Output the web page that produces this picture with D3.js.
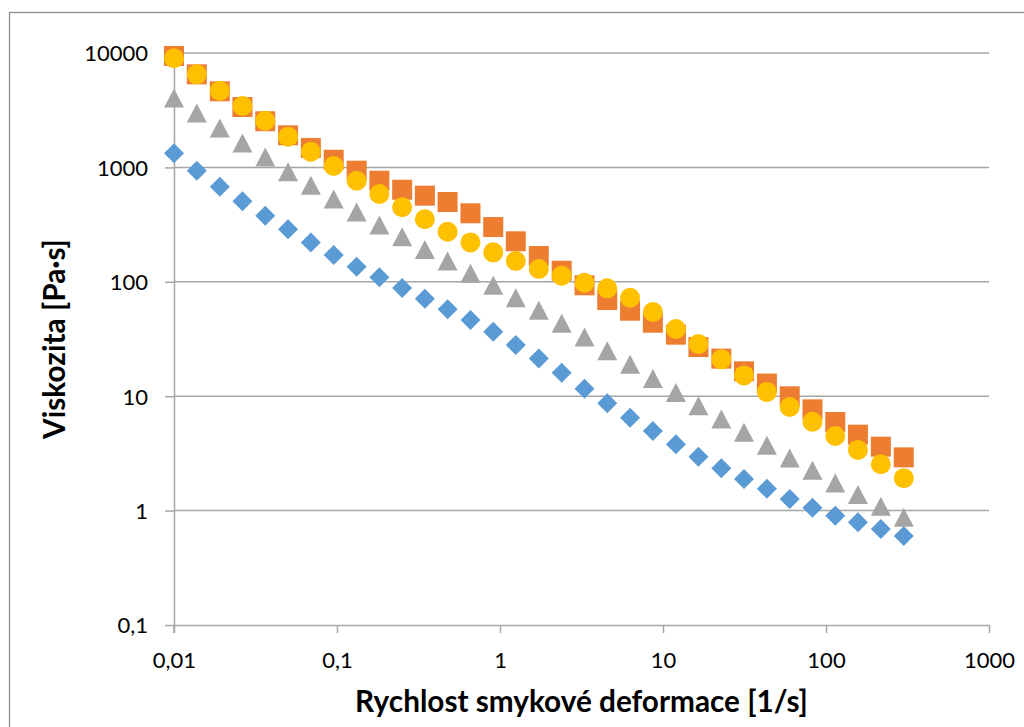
<!DOCTYPE html>
<html>
<head>
<meta charset="utf-8">
<script src="https://cdn.jsdelivr.net/npm/d3@7"></script>
<style>
  html, body { margin: 0; padding: 0; background: #fff; }
  svg { display: block; }
</style>
</head>
<body>
<svg id="chart" width="1024" height="727"></svg>
<script>
// Shear rate [1/s]
const shearRate = [0.01, 0.0138, 0.0191, 0.0263, 0.0363, 0.0501, 0.0691, 0.0954, 0.132, 0.182,
  0.251, 0.346, 0.477, 0.659, 0.909, 1.25, 1.73, 2.39, 3.3, 4.55, 6.28, 8.67, 12, 16.5, 22.8,
  31.4, 43.4, 59.9, 82.6, 114, 157, 217, 300];

// Viscosity [Pa·s] for the four samples
const seriesBlue = [1330, 936, 678, 505, 378, 288, 221, 171.5, 135.5, 109.4, 88.3, 71.2, 57.5,
  46.4, 36.6, 28.0, 21.4, 16.0, 11.6, 8.67, 6.49, 4.96, 3.80, 2.96, 2.34, 1.89, 1.55, 1.26,
  1.06, 0.903, 0.790, 0.691, 0.600];
const seriesOrange = [9420, 6510, 4625, 3373, 2531, 1908, 1479, 1167, 936, 765, 638, 566, 498,
  397, 301, 226, 168, 125, 93.2, 69.3, 55.9, 43.9, 34.5, 26.9, 21.3, 16.5, 12.9, 9.98, 7.68,
  5.95, 4.61, 3.62, 2.92];
const seriesGray = [4045, 2990, 2210, 1634, 1233, 917, 698, 529, 408, 314, 248, 192, 152,
  118.7, 93.2, 72.6, 56.3, 43.4, 32.9, 25.0, 19.0, 14.3, 10.8, 8.26, 6.32, 4.83, 3.72, 2.88,
  2.25, 1.74, 1.38, 1.09, 0.874];
const seriesYellow = [8990, 6510, 4680, 3440, 2560, 1855, 1371, 1028, 765, 585, 448, 352, 274,
  221, 181, 152, 129.4, 113, 98.2, 87.7, 72.6, 54.5, 38.7, 28.6, 21.0, 15.2, 10.9, 8.05, 5.98,
  4.49, 3.39, 2.54, 1.92];

// Axis ticks and their labels (decimal comma)
const xTicks = [0.01, 0.1, 1, 10, 100, 1000];
const xTickLabels = ["0,01", "0,1", "1", "10", "100", "1000"];
const yTicks = [0.1, 1, 10, 100, 1000, 10000];
const yTickLabels = ["0,1", "1", "10", "100", "1000", "10000"];

const xTitle = "Rychlost smykové deformace [1/s]";
const yTitle = "Viskozita [Pa·s]";

const series = [
  { values: seriesBlue,   color: "#5B9BD5", shape: "diamond" },
  { values: seriesOrange, color: "#ED7D31", shape: "square" },
  { values: seriesGray,   color: "#A5A5A5", shape: "triangle" },
  { values: seriesYellow, color: "#FFC000", shape: "circle" }
];

const svg = d3.select("#chart");
const plot = { left: 174, right: 989, top: 53, bottom: 625 };
const gridColor = "#A6A6A6";
const tickFont = "Lato, 'Open Sans', sans-serif";

const x = d3.scaleLog().domain([0.01, 1000]).range([plot.left, plot.right]);
const y = d3.scaleLog().domain([0.1, 10000]).range([plot.bottom, plot.top]);

// Chart area border
svg.append("rect")
  .attr("x", 9.5).attr("y", 12.5)
  .attr("width", 1200).attr("height", 900)
  .attr("fill", "none").attr("stroke", "#8C8C8C").attr("stroke-width", 1.3);

// Horizontal gridlines
svg.append("g")
  .selectAll("line")
  .data(yTicks.slice(1))
  .join("line")
  .attr("x1", plot.left).attr("x2", plot.right)
  .attr("y1", d => y(d)).attr("y2", d => y(d))
  .attr("stroke", gridColor).attr("stroke-width", 1.5);

// X axis
const xAxis = svg.append("g")
  .attr("transform", `translate(0,${plot.bottom})`)
  .call(d3.axisBottom(x)
    .tickValues(xTicks)
    .tickFormat((d, i) => xTickLabels[i])
    .tickSizeInner(8).tickSizeOuter(0).tickPadding(0));
xAxis.select(".domain").attr("stroke", gridColor).attr("stroke-width", 1.5);
xAxis.selectAll(".tick line").attr("stroke", gridColor).attr("stroke-width", 1.5);
xAxis.selectAll(".tick text")
  .attr("y", 43).attr("dy", null)
  .attr("fill", "#000")
  .style("font-family", tickFont).style("font-size", "22px");

// Y axis
const yAxis = svg.append("g")
  .attr("transform", `translate(${plot.left},0)`)
  .call(d3.axisLeft(y)
    .tickValues(yTicks)
    .tickFormat((d, i) => yTickLabels[i])
    .tickSizeInner(9).tickSizeOuter(0).tickPadding(17));
yAxis.select(".domain").attr("stroke", gridColor).attr("stroke-width", 1.5);
yAxis.selectAll(".tick line").attr("stroke", gridColor).attr("stroke-width", 1.5);
yAxis.selectAll(".tick text")
  .attr("dy", "0.36em")
  .attr("fill", "#000")
  .style("font-family", tickFont).style("font-size", "22px");
// the vertical axis line continues down through the tick marks
svg.append("line")
  .attr("x1", plot.left).attr("x2", plot.left)
  .attr("y1", plot.bottom).attr("y2", plot.bottom + 8)
  .attr("stroke", gridColor).attr("stroke-width", 1.5);

// Marker shapes, centred on their bounding box
function markerPath(shape) {
  const h = 10;
  switch (shape) {
    case "diamond":  return `M0,${-h}L${h},0L0,${h}L${-h},0Z`;
    case "square":   return `M${-h},${-h}H${h}V${h}H${-h}Z`;
    case "triangle": return `M0,${-9.5}L${h},9.5L${-h},9.5Z`;
    default:         return d3.symbol(d3.symbolCircle, Math.PI * h * h)();
  }
}

series.forEach(s => {
  svg.append("g")
    .selectAll("path")
    .data(s.values.map((v, i) => [shearRate[i], v]))
    .join("path")
    .attr("d", markerPath(s.shape))
    .attr("transform", d => `translate(${x(d[0])},${y(d[1])})`)
    .attr("fill", s.color);
});

// Axis titles
const titleStyle = sel => sel
  .attr("fill", "#000")
  .style("font-family", "Lato, 'Open Sans', sans-serif")
  .style("font-weight", "bold")
  .style("font-size", "26px");

const xt = svg.append("text")
  .attr("x", (plot.left + plot.right) / 2).attr("y", 712)
  .attr("text-anchor", "middle")
  .text(xTitle)
  .call(titleStyle);

const yt = svg.append("text")
  .attr("transform", `translate(65,${(plot.top + plot.bottom) / 2}) rotate(-90)`)
  .attr("text-anchor", "middle")
  .text(yTitle)
  .call(titleStyle);

// size the titles so the horizontal one spans its intended width
const wanted = 453;
const measured = xt.node().getComputedTextLength();
const fs = 26 * wanted / measured;
xt.style("font-size", fs + "px");
yt.style("font-size", fs + "px");
</script>
</body>
</html>
